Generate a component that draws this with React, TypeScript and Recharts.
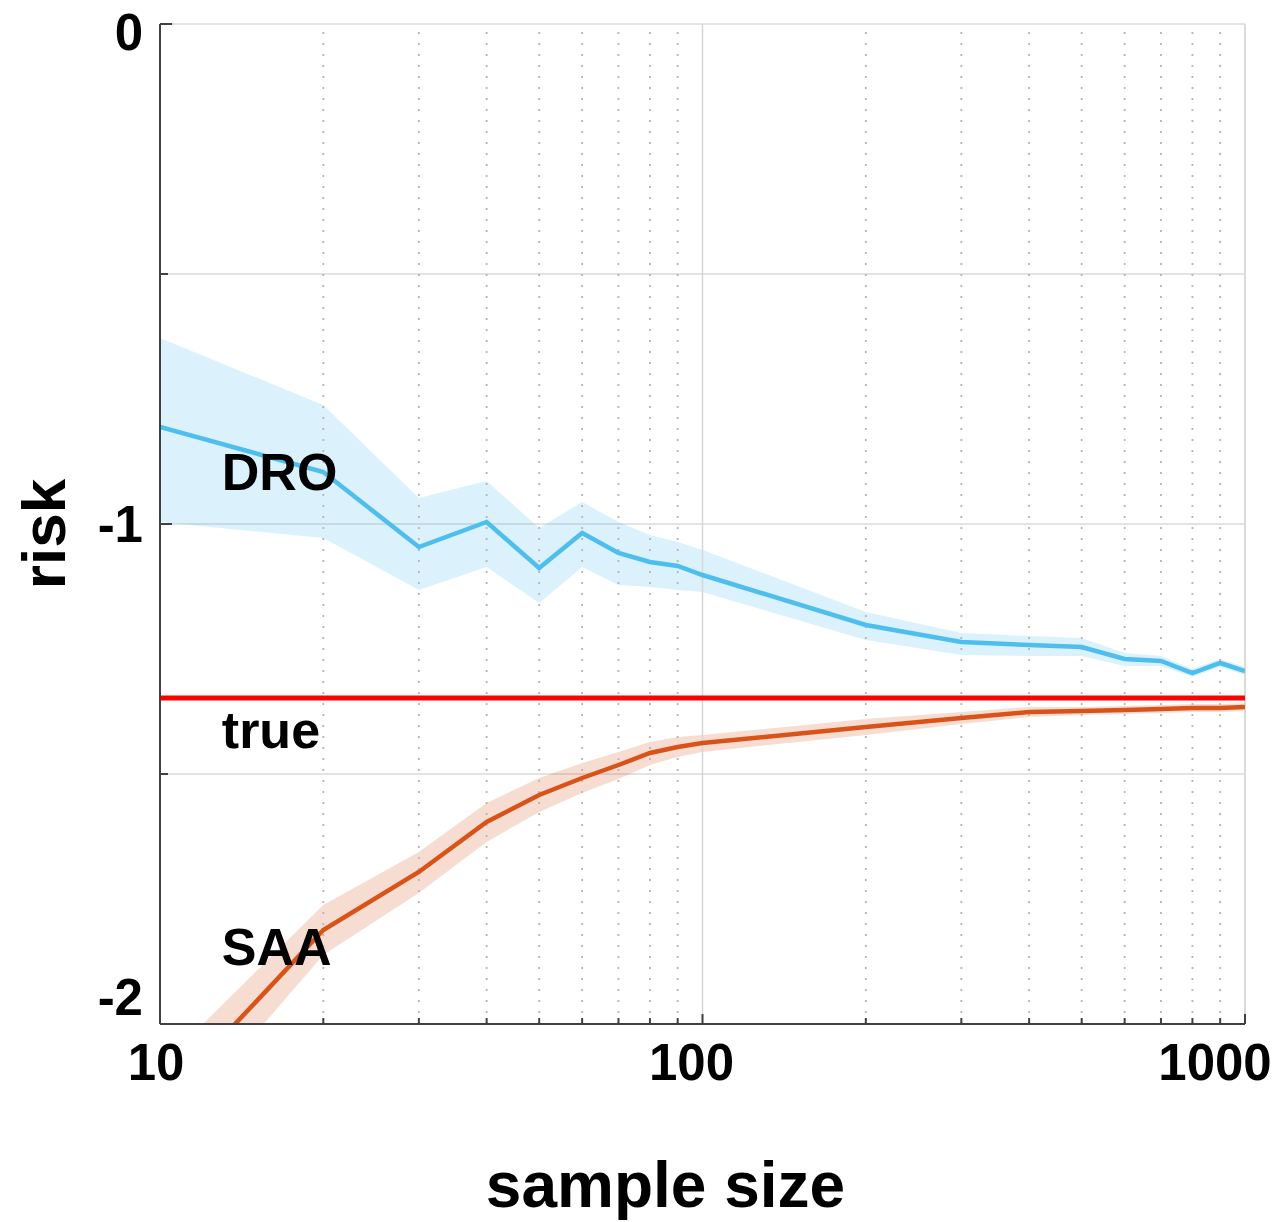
import {
  ComposedChart,
  Line,
  Area,
  XAxis,
  YAxis,
  CartesianGrid,
  ReferenceLine,
  ReferenceDot,
  Label,
} from "recharts";

// sample sizes (log x axis)
const SAMPLE_SIZES = [10, 20, 30, 40, 50, 60, 70, 80, 90, 100, 200, 300, 400, 500, 600, 700, 800, 900, 1000];

// DRO risk: mean and shaded band
const DRO_MEAN = [-0.806, -0.896, -1.046, -0.996, -1.088, -1.018, -1.058, -1.076, -1.084, -1.102, -1.202, -1.236, -1.242, -1.246, -1.27, -1.274, -1.298, -1.278, -1.294];
const DRO_UPPER = [-0.628, -0.762, -0.948, -0.914, -1.008, -0.956, -0.996, -1.022, -1.036, -1.052, -1.176, -1.218, -1.224, -1.228, -1.258, -1.264, -1.29, -1.27, -1.286];
const DRO_LOWER = [-0.996, -1.028, -1.132, -1.086, -1.158, -1.086, -1.122, -1.126, -1.132, -1.136, -1.232, -1.262, -1.264, -1.264, -1.284, -1.284, -1.306, -1.286, -1.302];

// SAA risk: mean and shaded band
const SAA_MEAN = [-2.16, -1.812, -1.696, -1.596, -1.542, -1.508, -1.482, -1.458, -1.446, -1.438, -1.406, -1.388, -1.376, -1.374, -1.372, -1.37, -1.368, -1.368, -1.366];
const SAA_UPPER = [-2.085, -1.762, -1.656, -1.558, -1.508, -1.478, -1.456, -1.436, -1.426, -1.422, -1.39, -1.376, -1.366, -1.366, -1.364, -1.362, -1.36, -1.36, -1.358];
const SAA_LOWER = [-2.24, -1.862, -1.738, -1.636, -1.576, -1.538, -1.51, -1.482, -1.466, -1.456, -1.422, -1.4, -1.386, -1.382, -1.38, -1.378, -1.376, -1.376, -1.374];

const TRUE_RISK = -1.348;

// axis ticks
const X_TICKS = [10, 20, 30, 40, 50, 60, 70, 80, 90, 100, 200, 300, 400, 500, 600, 700, 800, 900, 1000];
const X_MAJOR = [10, 100, 1000];
const X_MINOR = [20, 30, 40, 50, 60, 70, 80, 90, 200, 300, 400, 500, 600, 700, 800, 900];
const Y_TICKS = [-2, -1.5, -1, -0.5, 0];

const data = SAMPLE_SIZES.map((n, i) => ({
  n,
  dro: DRO_MEAN[i],
  droBand: [DRO_LOWER[i], DRO_UPPER[i]],
  saa: SAA_MEAN[i],
  saaBand: [SAA_LOWER[i], SAA_UPPER[i]],
}));

const FONT = '"Liberation Sans", Arial, Helvetica, sans-serif';
const AXIS = "#404040";
const DRO_COLOR = "#4DBEEE";
const SAA_COLOR = "#D95319";

function XTick({ x, y, payload }: any) {
  const v = payload.value;
  const major = X_MAJOR.includes(v);
  const dx = v === 10 ? -4 : v === 100 ? -11 : -30;
  return (
    <g>
      <line x1={x} x2={x} y1={y} y2={y - (major ? 10 : 6)} stroke={AXIS} strokeWidth={2} />
      {major && (
        <text x={x + dx} y={y + 56} textAnchor="middle" fontFamily={FONT} fontWeight="bold" fontSize={51} fill="#000">
          {v}
        </text>
      )}
    </g>
  );
}

function YTick({ x, y, payload }: any) {
  const v = payload.value;
  const major = Number.isInteger(v);
  const dy = v === 0 ? 26 : v === -2 ? -9 : 18;
  return (
    <g>
      <line x1={x} x2={x + (major ? 12 : 8)} y1={y} y2={y} stroke={AXIS} strokeWidth={2} />
      {major && (
        <text x={x - 17} y={y + dy} textAnchor="end" fontFamily={FONT} fontWeight="bold" fontSize={51} fill="#000">
          {v}
        </text>
      )}
    </g>
  );
}

function seriesLabel(text: string) {
  return (props: any) => (
    <text x={props.cx} y={props.cy} fontFamily={FONT} fontWeight="bold" fontSize={52} fill="#000">
      {text}
    </text>
  );
}

export default function App() {
  return (
    <div style={{ position: "absolute", left: 0, top: 0, background: "#fff" }}>
      <ComposedChart
        width={1279}
        height={1222}
        data={data}
        margin={{ top: 24, right: 34, left: 0, bottom: 0 }}
      >
        <CartesianGrid vertical={false} stroke="#E3E3E3" strokeWidth={2} />
        {X_MINOR.map((v) => (
          <ReferenceLine key={v} x={v} stroke="#B5B5B5" strokeWidth={1.8} strokeDasharray="2 9" />
        ))}
        <ReferenceLine x={100} stroke="#D6D6D6" strokeWidth={1.5} />
        <ReferenceLine x={1000} stroke="#DADADA" strokeWidth={2} />
        <XAxis
          dataKey="n"
          type="number"
          scale="log"
          domain={[10, 1000]}
          ticks={X_TICKS}
          allowDataOverflow
          height={198}
          tickSize={0}
          tickMargin={0}
          tickLine={false}
          axisLine={{ stroke: AXIS, strokeWidth: 2 }}
          tick={<XTick />}
          interval={0}
        >
          <Label
            content={({ viewBox }: any) => (
              <text
                x={viewBox.x + viewBox.width / 2 - 37}
                y={viewBox.y + 183}
                textAnchor="middle"
                fontFamily={FONT}
                fontWeight="bold"
                fontSize={64}
                fill="#000"
              >
                sample size
              </text>
            )}
          />
        </XAxis>
        <YAxis
          type="number"
          domain={[-2, 0]}
          ticks={Y_TICKS}
          allowDataOverflow
          width={160}
          tickSize={0}
          tickMargin={0}
          tickLine={false}
          axisLine={{ stroke: AXIS, strokeWidth: 2 }}
          tick={<YTick />}
          interval={0}
        >
          <Label
            content={({ viewBox }: any) => {
              const cx = viewBox.x + 65;
              const cy = viewBox.y + viewBox.height / 2 + 10;
              return (
                <text
                  x={cx}
                  y={cy}
                  transform={`rotate(-90 ${cx} ${cy})`}
                  textAnchor="middle"
                  fontFamily={FONT}
                  fontWeight="bold"
                  fontSize={62}
                  fill="#000"
                >
                  risk
                </text>
              );
            }}
          />
        </YAxis>
        <Area
          type="linear"
          dataKey="droBand"
          stroke="none"
          fill={DRO_COLOR}
          fillOpacity={0.2}
          isAnimationActive={false}
          activeDot={false}
        />
        <Area
          type="linear"
          dataKey="saaBand"
          stroke="none"
          fill={SAA_COLOR}
          fillOpacity={0.2}
          isAnimationActive={false}
          activeDot={false}
        />
        <Line
          type="linear"
          dataKey="dro"
          stroke={DRO_COLOR}
          strokeWidth={4.5}
          dot={false}
          activeDot={false}
          isAnimationActive={false}
        />
        <Line
          type="linear"
          dataKey="saa"
          stroke={SAA_COLOR}
          strokeWidth={4.5}
          dot={false}
          activeDot={false}
          isAnimationActive={false}
        />
        <ReferenceLine y={TRUE_RISK} stroke="#FF0000" strokeWidth={5} />
        <ReferenceDot x={13} y={-0.932} r={0} shape={seriesLabel("DRO")} />
        <ReferenceDot x={13} y={-1.448} r={0} shape={seriesLabel("true")} />
        <ReferenceDot x={13} y={-1.882} r={0} shape={seriesLabel("SAA")} />
      </ComposedChart>
    </div>
  );
}
